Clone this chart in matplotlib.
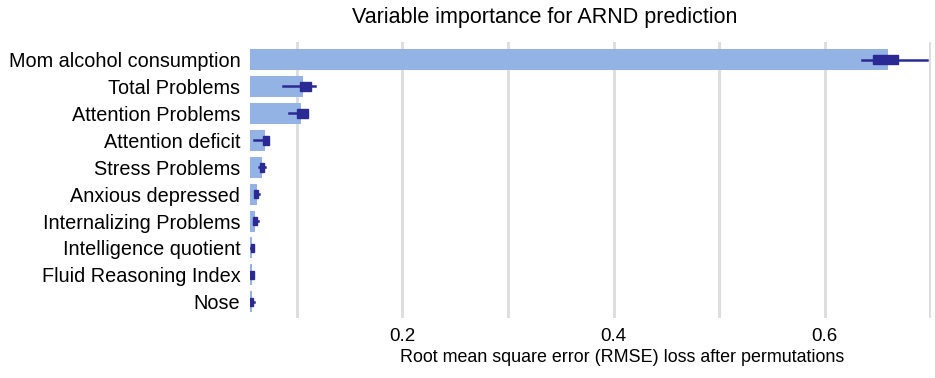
import matplotlib.pyplot as plt

plt.rcParams['font.family'] = ['Liberation Sans', 'DejaVu Sans']

# 数据
variables = ["Mom alcohol consumption", "Total Problems", "Attention Problems",
             "Attention deficit", "Stress Problems", "Anxious depressed",
             "Internalizing Problems", "Intelligence quotient",
             "Fluid Reasoning Index", "Nose"]
full_model_loss = 0.0558
dropout_loss = [0.6596, 0.1064, 0.1045, 0.0698, 0.0673, 0.0622, 0.0607, 0.0579, 0.0577, 0.0576]
whisker_low = [0.635, 0.0868, 0.0925, 0.0600, 0.0640, 0.0597, 0.0585, 0.0560, 0.0560, 0.0558]
box_q1 = [0.646, 0.1033, 0.1007, 0.0679, 0.0648, 0.0600, 0.0590, 0.0563, 0.0562, 0.0560]
box_med = [0.657, 0.1080, 0.1060, 0.0705, 0.0672, 0.0618, 0.0607, 0.0577, 0.0575, 0.0573]
box_q3 = [0.669, 0.1137, 0.1111, 0.0736, 0.0695, 0.0638, 0.0628, 0.0595, 0.0593, 0.0590]
whisker_high = [0.6966, 0.1174, 0.1111, 0.0736, 0.0704, 0.0641, 0.0632, 0.0600, 0.0598, 0.0595]

bar_color = '#92b3e4'
box_color = '#2b2a94'


def draw_importance():
    fig = plt.figure(figsize=(9.35, 3.78), dpi=100)
    ax = fig.add_axes([250 / 935, 1 - 318 / 378, 681 / 935, 276 / 378])

    pos = list(range(len(variables)))
    widths = [v - full_model_loss for v in dropout_loss]
    ax.barh(pos, widths, left=full_model_loss, height=0.78, color=bar_color,
            edgecolor='none', zorder=2)

    # 置换损失的箱线图
    stats = []
    for i in pos:
        stats.append(dict(whislo=whisker_low[i], q1=box_q1[i], med=box_med[i],
                          q3=box_q3[i], whishi=whisker_high[i], fliers=[]))
    ax.bxp(stats, positions=pos, orientation='horizontal', widths=0.32,
           patch_artist=True, showcaps=False, showfliers=False,
           boxprops=dict(facecolor=box_color, edgecolor=box_color, linewidth=1),
           whiskerprops=dict(color=box_color, linewidth=1.8),
           medianprops=dict(color=box_color, linewidth=1),
           zorder=3)

    ax.set_xlim(full_model_loss, 0.7005)
    ax.set_ylim(len(variables) - 0.4, -0.65)
    ax.set_yticks(pos)
    ax.set_yticklabels(variables, fontsize=14.3, color='black')
    ax.set_xticks([0.1, 0.2, 0.3, 0.4, 0.5, 0.6, 0.7])
    ax.set_xticklabels(['', '0.2', '', '0.4', '', '0.6', ''], fontsize=13.5)
    ax.tick_params(axis='y', length=0, pad=7)
    ax.tick_params(axis='x', length=0, pad=7)
    ax.xaxis.grid(True, color='#dedede', linewidth=2.2, zorder=0)
    ax.set_axisbelow(True)
    for s in ax.spines.values():
        s.set_visible(False)

    ax.set_xlabel('Root mean square error (RMSE) loss after permutations',
                  fontsize=12.9, labelpad=3)
    ax.xaxis.label.set_x((622 - 250) / 681)
    fig.text(352 / 935, 1 - 17 / 378, 'Variable importance for ARND prediction',
             ha='left', va='center', fontsize=15.5)

    fig.savefig('out.png', dpi=100, facecolor='white')
    plt.close(fig)


if __name__ == "__main__":
    draw_importance()
